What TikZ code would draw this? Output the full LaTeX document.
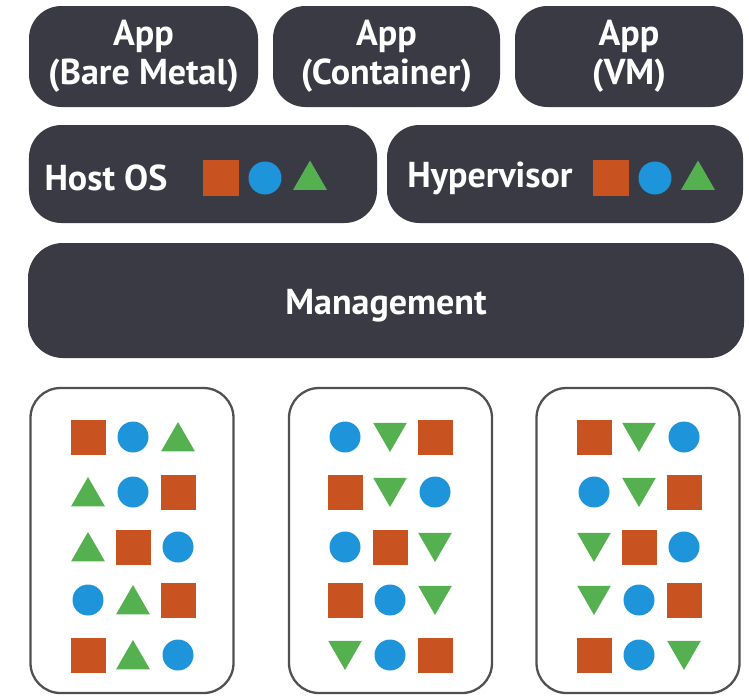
\documentclass[tikz,border=0pt]{standalone}
\usepackage{fontspec}
\setmainfont{PT Sans}
\usetikzlibrary{shapes.geometric}
\definecolor{boxdark}{RGB}{57,58,68}
\definecolor{sqorange}{RGB}{200,82,32}
\definecolor{ciblue}{RGB}{30,149,218}
\definecolor{trgreen}{RGB}{85,176,79}
\definecolor{rimgray}{RGB}{80,80,84}

\tikzset{
  layer/.style={fill=boxdark, rounded corners=0.65cm, text=white, font=\fontsize{20.5}{22}\selectfont\bfseries, align=center, inner sep=0},
  label/.style={text=white, font=\fontsize{20.5}{22}\selectfont\bfseries, inner sep=0},
  server/.style={draw=rimgray, line width=1.3pt, rounded corners=0.6cm, minimum width=4.06cm, minimum height=6.1cm},
  sq/.style={fill=sqorange, minimum size=0.7cm, inner sep=0},
  ci/.style={circle, fill=ciblue, minimum size=0.62cm, inner sep=0},
  up/.style={regular polygon, regular polygon sides=3, fill=trgreen, minimum size=0.78cm, inner sep=0},
  dn/.style={up, shape border rotate=180},
}

\begin{document}
\begin{tikzpicture}[yscale=-1]
	\useasboundingbox (0,0) rectangle (14.98,13.94);
	% apps
	\node[layer, minimum width=4.58cm, minimum height=2.02cm] (A1) at (2.87,1.13) {App\\(Bare Metal)};
	\node[layer, minimum width=4.54cm, minimum height=2.02cm] (A2) at (7.73,1.13) {App\\(Container)};
	\node[layer, minimum width=4.56cm, minimum height=2.02cm] (A3) at (12.58,1.13) {App\\(VM)};
	% host os and hypervisor
	\node[layer, minimum width=6.96cm, minimum height=1.96cm] (H) at (4.06,3.48) {};
	\node[layer, minimum width=7.12cm, minimum height=1.96cm] (V) at (11.30,3.48) {};
	\node[label] (Ht) at (2.12,3.56) {Host OS};
	\node[sq, minimum size=0.72cm] (Hs) at (4.42,3.56) {};
	\node[ci, minimum size=0.66cm] (Hc) at (5.30,3.56) {};
	\node[up] (Hu) at (6.20,3.60) {};
	\node[label] (Vt) at (9.80,3.56) {Hypervisor};
	\node[sq, minimum size=0.72cm] (Vs) at (12.22,3.56) {};
	\node[ci, minimum size=0.66cm] (Vc) at (13.10,3.56) {};
	\node[up] (Vu) at (13.96,3.60) {};
	% management
	\node[layer, minimum width=14.32cm, minimum height=2.3cm, rounded corners=0.7cm] (M) at (7.72,6.01) {};
	\node[label] (Mt) at (7.72,6.12) {Management};
	% servers
	\node[server] (N1) at (2.64,10.81) {};
	\node[server] (N2) at (7.81,10.81) {};
	\node[server] (N3) at (12.76,10.81) {};

	\node[sq] (a11) at (1.76,8.74) {}; \node[ci] (a12) at (2.66,8.74) {}; \node[up] (a13) at (3.56,8.83) {};
	\node[up] (a21) at (1.76,9.93) {}; \node[ci] (a22) at (2.66,9.84) {}; \node[sq] (a23) at (3.56,9.84) {};
	\node[up] (a31) at (1.76,11.03) {}; \node[sq] (a32) at (2.66,10.94) {}; \node[ci] (a33) at (3.56,10.94) {};
	\node[ci] (a41) at (1.76,12.0) {}; \node[up] (a42) at (2.66,12.09) {}; \node[sq] (a43) at (3.56,12.0) {};
	\node[sq] (a51) at (1.76,13.1) {}; \node[up] (a52) at (2.66,13.19) {}; \node[ci] (a53) at (3.56,13.1) {};

	\node[ci] (b11) at (6.9,8.74) {}; \node[dn] (b12) at (7.8,8.65) {}; \node[sq] (b13) at (8.7,8.74) {};
	\node[sq] (b21) at (6.9,9.84) {}; \node[dn] (b22) at (7.8,9.75) {}; \node[ci] (b23) at (8.7,9.84) {};
	\node[ci] (b31) at (6.9,10.94) {}; \node[sq] (b32) at (7.8,10.94) {}; \node[dn] (b33) at (8.7,10.85) {};
	\node[sq] (b41) at (6.9,12.0) {}; \node[ci] (b42) at (7.8,12.0) {}; \node[dn] (b43) at (8.7,11.91) {};
	\node[dn] (b51) at (6.9,13.01) {}; \node[ci] (b52) at (7.8,13.1) {}; \node[sq] (b53) at (8.7,13.1) {};

	\node[sq] (c11) at (11.88,8.74) {}; \node[dn] (c12) at (12.78,8.65) {}; \node[ci] (c13) at (13.68,8.74) {};
	\node[ci] (c21) at (11.88,9.84) {}; \node[dn] (c22) at (12.78,9.75) {}; \node[sq] (c23) at (13.68,9.84) {};
	\node[dn] (c31) at (11.88,10.85) {}; \node[sq] (c32) at (12.78,10.94) {}; \node[ci] (c33) at (13.68,10.94) {};
	\node[dn] (c41) at (11.88,11.91) {}; \node[ci] (c42) at (12.78,12.0) {}; \node[sq] (c43) at (13.68,12.0) {};
	\node[sq] (c51) at (11.88,13.1) {}; \node[ci] (c52) at (12.78,13.1) {}; \node[dn] (c53) at (13.68,13.01) {};
\end{tikzpicture}
\end{document}
